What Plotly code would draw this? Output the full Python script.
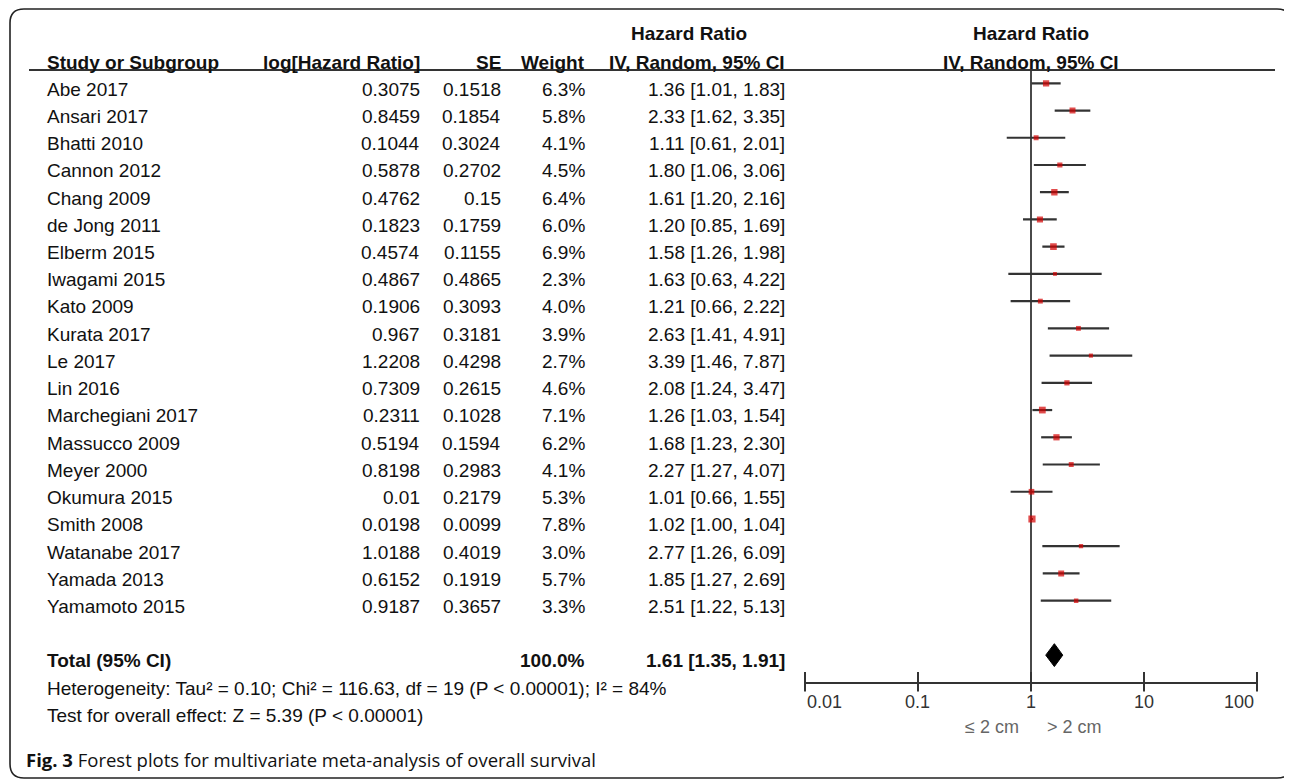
import numpy as np
import plotly.graph_objects as go

# ---------------- data ----------------
studies = ["Abe 2017", "Ansari 2017", "Bhatti 2010", "Cannon 2012", "Chang 2009",
           "de Jong 2011", "Elberm 2015", "Iwagami 2015", "Kato 2009", "Kurata 2017",
           "Le 2017", "Lin 2016", "Marchegiani 2017", "Massucco 2009", "Meyer 2000",
           "Okumura 2015", "Smith 2008", "Watanabe 2017", "Yamada 2013", "Yamamoto 2015"]
log_hr = [0.3075, 0.8459, 0.1044, 0.5878, 0.4762, 0.1823, 0.4574, 0.4867, 0.1906, 0.967,
          1.2208, 0.7309, 0.2311, 0.5194, 0.8198, 0.01, 0.0198, 1.0188, 0.6152, 0.9187]
se = [0.1518, 0.1854, 0.3024, 0.2702, 0.15, 0.1759, 0.1155, 0.4865, 0.3093, 0.3181,
      0.4298, 0.2615, 0.1028, 0.1594, 0.2983, 0.2179, 0.0099, 0.4019, 0.1919, 0.3657]
weight = [6.3, 5.8, 4.1, 4.5, 6.4, 6.0, 6.9, 2.3, 4.0, 3.9,
          2.7, 4.6, 7.1, 6.2, 4.1, 5.3, 7.8, 3.0, 5.7, 3.3]
hr = [1.36, 2.33, 1.11, 1.80, 1.61, 1.20, 1.58, 1.63, 1.21, 2.63,
      3.39, 2.08, 1.26, 1.68, 2.27, 1.01, 1.02, 2.77, 1.85, 2.51]
hr_lo = [1.01, 1.62, 0.61, 1.06, 1.20, 0.85, 1.26, 0.63, 0.66, 1.41,
         1.46, 1.24, 1.03, 1.23, 1.27, 0.66, 1.00, 1.26, 1.27, 1.22]
hr_hi = [1.83, 3.35, 2.01, 3.06, 2.16, 1.69, 1.98, 4.22, 2.22, 4.91,
         7.87, 3.47, 1.54, 2.30, 4.07, 1.55, 1.04, 6.09, 2.69, 5.13]
total_weight = 100.0
total_hr, total_lo, total_hi = 1.61, 1.35, 1.91
het_text = "Heterogeneity: Tau² = 0.10; Chi² = 116.63, df = 19 (P < 0.00001); I² = 84%"
test_text = "Test for overall effect: Z = 5.39 (P < 0.00001)"
axis_ticks = [0.01, 0.1, 1, 10, 100]
axis_tick_labels = ["0.01", "0.1", "1", "10", "100"]
favours_left = "≤ 2 cm"
favours_right = "> 2 cm"
caption_bold = "Fig. 3"
caption_text = "Forest plots for multivariate meta-analysis of overall survival"

# ---------------- layout constants (reference pixel space) ----------------
OFF = 8                  # page body margin
W, H = 1292 - OFF, 780 - OFF
ROW0 = 83.3      # pixel y of first study row (marks)
ROWH = 27.23     # row height in px
TOP_PX = 70.0    # header underline
AXIS_PX = 681.7  # x axis line
TXT = 5.8        # text centre below mark centre (px)
FONT = "Liberation Sans, Arial, sans-serif"
TXTCOL = "#111111"
LINECOL = "#333333"
X1_PX, XDEC = 1030.7, 112.8   # pixel of HR=1, pixels per decade


def fx(px):
    return (px - OFF) / W


def fy(py):
    return (H - (py - OFF)) / H


def row_px(r):
    return ROW0 + r * ROWH


def row_of(px):
    return (px - ROW0) / ROWH


def hr_px(v):
    return X1_PX + np.log10(v) * XDEC


n = len(studies)
rows = list(range(n))
total_row = n + 1

fig = go.Figure()

# vertical line of no effect
fig.add_trace(go.Scatter(x=[1, 1], y=[row_of(TOP_PX), row_of(AXIS_PX)], mode="lines",
                         line=dict(color="#4a4a4a", width=2), cliponaxis=False,
                         hoverinfo="skip"))

# confidence intervals
for i in rows:
    fig.add_trace(go.Scatter(x=[hr_lo[i], hr_hi[i]], y=[i, i], mode="lines",
                             line=dict(color=LINECOL, width=2.2), hoverinfo="skip"))

# study squares
fig.add_trace(go.Scatter(x=hr, y=rows, mode="markers",
                         marker=dict(symbol="square", color="#d40000",
                                     size=[2.5 + 0.6 * w for w in weight],
                                     line=dict(width=0)),
                         hoverinfo="skip"))

# pooled diamond
dh = 0.42
fig.add_trace(go.Scatter(x=[total_lo, total_hr, total_hi, total_hr, total_lo],
                         y=[total_row, total_row - dh, total_row, total_row + dh, total_row],
                         mode="lines", fill="toself", fillcolor="black",
                         line=dict(color="black", width=1), hoverinfo="skip"))

# axis tick marks (crossing the axis)
fig.add_trace(go.Scatter(x=axis_ticks, y=[row_of(AXIS_PX)] * len(axis_ticks), mode="markers",
                         marker=dict(symbol="line-ns", size=14,
                                     line=dict(color=LINECOL, width=2)),
                         cliponaxis=False, hoverinfo="skip"))

ann = []


def add_text(xpx, ypx, text, anchor="left", size=19, bold=False, color=TXTCOL, family=FONT):
    ann.append(dict(x=fx(xpx), y=fy(ypx), xref="paper", yref="paper",
                    text=("<b>%s</b>" % text) if bold else text,
                    showarrow=False, xanchor=anchor, yanchor="middle",
                    font=dict(family=family, size=size, color=color)))


# headers
hy1, hy2 = 33, 62
add_text(45, hy2, "Study or Subgroup", "left", bold=True)
add_text(422, hy2, "log[Hazard Ratio]", "right", bold=True)
add_text(503, hy2, "SE", "right", bold=True)
add_text(587, hy2, "Weight", "right", bold=True)
add_text(689, hy1, "Hazard Ratio", "center", bold=True)
add_text(787, hy2, "IV, Random, 95% CI", "right", bold=True)
add_text(X1_PX, hy1, "Hazard Ratio", "center", bold=True)
add_text(X1_PX, hy2, "IV, Random, 95% CI", "center", bold=True)

# study rows
for i in rows:
    y = row_px(i) + TXT
    add_text(45, y, studies[i], "left")
    add_text(422, y, str(log_hr[i]), "right")
    add_text(503, y, str(se[i]), "right")
    add_text(587, y, "%.1f%%" % weight[i], "right")
    add_text(787, y, "%.2f [%.2f, %.2f]" % (hr[i], hr_lo[i], hr_hi[i]), "right")

# total rows
ty = row_px(total_row) + TXT
add_text(45, ty, "Total (95% CI)", "left", bold=True)
add_text(587, ty, "%.1f%%" % total_weight, "right", bold=True)
add_text(787, ty, "%.2f [%.2f, %.2f]" % (total_hr, total_lo, total_hi), "right", bold=True)
add_text(45, row_px(total_row + 1) + TXT, het_text, "left")
add_text(45, row_px(total_row + 2) + TXT, test_text, "left")

# axis labels
for j, (v, lab) in enumerate(zip(axis_ticks, axis_tick_labels)):
    anc = "left" if j == 0 else ("right" if j == len(axis_ticks) - 1 else "center")
    add_text(hr_px(v), 702, lab, anc, size=18, color="#333333")
add_text(X1_PX - 10, 727, favours_left, "right", size=18, color="#666666")
add_text(X1_PX + 14, 727, favours_right, "left", size=18, color="#666666")

# caption
ann.append(dict(x=fx(24), y=fy(759), xref="paper", yref="paper",
                text="<b>%s</b> %s" % (caption_bold, caption_text), showarrow=False,
                xanchor="left", yanchor="middle",
                font=dict(family="Open Sans, sans-serif", size=18.5, color="#111111")))

# shapes: header underline and rounded frame
L, R, T, B, r = 10, 1291, 9, 778, 14


def pp(xp, yp):
    return "%.5f,%.5f" % (fx(xp), fy(yp))


frame = ("M " + pp(L + r, T) + " L " + pp(R - r, T) + " Q " + pp(R, T) + " " + pp(R, T + r) +
         " L " + pp(R, B - r) + " Q " + pp(R, B) + " " + pp(R - r, B) +
         " L " + pp(L + r, B) + " Q " + pp(L, B) + " " + pp(L, B - r) +
         " L " + pp(L, T + r) + " Q " + pp(L, T) + " " + pp(L + r, T) + " Z")
shapes = [
    dict(type="line", xref="paper", yref="paper", x0=fx(29), x1=fx(1275),
         y0=fy(TOP_PX), y1=fy(TOP_PX), line=dict(color=LINECOL, width=2)),
    dict(type="path", xref="paper", yref="paper", path=frame,
         line=dict(color="#222222", width=1.6)),
]

fig.update_layout(
    width=W, height=H, margin=dict(l=0, r=0, t=0, b=0),
    paper_bgcolor="white", plot_bgcolor="white", showlegend=False,
    xaxis=dict(type="log", range=[-2, 2], domain=[fx(805), fx(1257)],
               showgrid=False, zeroline=False, showticklabels=False, ticks="",
               showline=True, linecolor=LINECOL, linewidth=2),
    yaxis=dict(range=[row_of(AXIS_PX), row_of(TOP_PX)],
               domain=[fy(AXIS_PX), fy(TOP_PX)], visible=False),
    annotations=ann, shapes=shapes,
)

fig.write_html("out.html")
